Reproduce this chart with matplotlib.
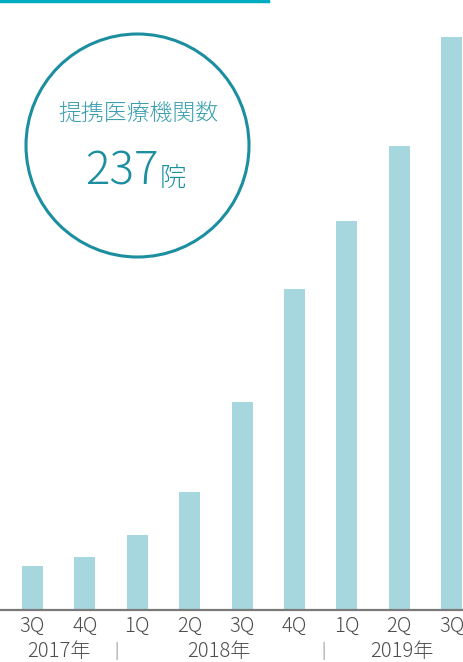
import matplotlib
matplotlib.use("Agg")
import matplotlib.pyplot as plt
from matplotlib.patches import Circle
from matplotlib.lines import Line2D

plt.rcParams["font.family"] = ["Noto Sans CJK JP", "DejaVu Sans"]

quarters = ["3Q", "4Q", "1Q", "2Q", "3Q", "4Q", "1Q", "2Q", "3Q"]
counts = [18, 22, 31, 49, 86, 133, 161, 192, 237]
years = ["2017年", "2018年", "2019年"]
year_pos = [0.5, 3.55, 7.05]
sep_pos = [1.6, 5.55]

title = "提携医療機関数"
total = "237"
unit = "院"

bar_color = "#a7d7de"
teal = "#1b8ea0"

fig = plt.figure(figsize=(4.63, 6.62), dpi=100)

ax = fig.add_axes([0, 52 / 662, 1, 610 / 662])
x = list(range(len(counts)))
ax.bar(x, counts, width=0.40, color=bar_color)
ax.set_xlim(-0.62, 8.214)
ax.set_ylim(0, 252.4)
for s in ["top", "right", "left"]:
    ax.spines[s].set_visible(False)
ax.spines["bottom"].set_color("#7a7a7a")
ax.spines["bottom"].set_linewidth(1.6)
ax.set_yticks([])
ax.set_xticks(x)
ax.set_xticklabels(quarters, fontsize=14.5, color="#4d4d4d", fontweight="light")
ax.tick_params(axis="x", length=0, pad=4)

for yr, p in zip(years, year_pos):
    ax.text(p, -0.068, yr, transform=ax.get_xaxis_transform(), ha="center",
            va="center", fontsize=14.5, color="#4d4d4d", fontweight="light",
            clip_on=False)
for p in sep_pos:
    ax.text(p, -0.068, "|", transform=ax.get_xaxis_transform(), ha="center",
            va="center", fontsize=11, color="#999999", clip_on=False)

# overlay in pixel coordinates for the badge
ov = fig.add_axes([0, 0, 1, 1])
ov.set_xlim(0, 463)
ov.set_ylim(662, 0)
ov.axis("off")
ov.patch.set_alpha(0)
ov.add_patch(Circle((137.5, 145.5), 111.5, fill=True, facecolor="white",
                    edgecolor=teal, linewidth=2.2))
ov.text(138, 113, title, ha="center", va="center", fontsize=16.5,
        color="#3a9fb0", fontweight="light")
ov.text(159, 172, total, ha="right", va="center", fontsize=33, color=teal,
        fontweight="light")
ov.text(160, 178, unit, ha="left", va="center", fontsize=19, color=teal,
        fontweight="light")

fig.add_artist(Line2D([0, 268 / 463], [1 - 1 / 662, 1 - 1 / 662],
                      color="#00acc1", linewidth=2.5))

fig.savefig("out.png", dpi=100)
